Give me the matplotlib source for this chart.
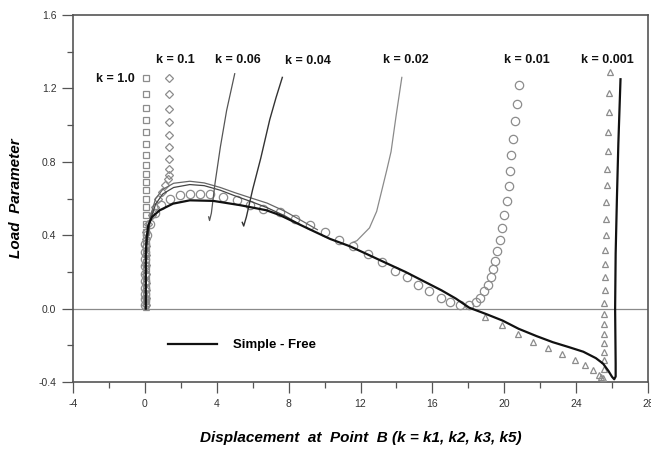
import matplotlib
matplotlib.use("Agg")
import matplotlib.pyplot as plt
import numpy as np
from matplotlib.ticker import MultipleLocator, FormatStrFormatter

plt.rcParams["font.family"] = ["Liberation Sans", "DejaVu Sans"]
plt.rcParams["axes.unicode_minus"] = False

# main thick curve (Simple - Free, k = 0.001 branch included)
main_x = [0.05, 0.05, 0.05, 0.1, 0.19, 0.4, 0.83, 1.57, 2.5, 3.8, 5.28, 6.76, 7.5, 9.0,
          10.3, 11.4, 12.4, 13.5, 14.5, 15.5, 16.5, 17.3, 18.05, 19.0, 19.9, 20.8, 21.8,
          22.7, 23.6, 24.4, 25.1, 25.5, 25.8, 26.0, 26.12, 26.2, 26.2, 26.17, 26.2, 26.27,
          26.35, 26.47]
main_y = [0.0, 0.15, 0.3, 0.39, 0.455, 0.5, 0.536, 0.572, 0.59, 0.587, 0.564, 0.536, 0.51,
          0.44, 0.38, 0.34, 0.295, 0.245, 0.2, 0.15, 0.1, 0.055, 0.005, -0.03, -0.065, -0.11,
          -0.15, -0.183, -0.21, -0.235, -0.27, -0.30, -0.34, -0.372, -0.385, -0.37, -0.3,
          0.0, 0.3, 0.6, 0.9, 1.25]

# thin arcs and unloading branches
arc06_x = [0.05, 0.1, 0.3, 0.6, 1.0, 1.6, 2.5, 3.3, 4.2, 5.0, 6.0, 6.8, 7.8, 8.8, 9.6]
arc06_y = [0.0, 0.35, 0.5, 0.6, 0.65, 0.683, 0.694, 0.685, 0.66, 0.632, 0.6, 0.575, 0.53, 0.475, 0.43]
arc04_x = [0.05, 0.1, 0.3, 0.6, 1.0, 1.6, 2.5, 3.3, 4.2, 5.0, 6.0, 6.8, 7.8, 8.6]
arc04_y = [0.0, 0.35, 0.48, 0.57, 0.625, 0.66, 0.676, 0.67, 0.645, 0.615, 0.58, 0.55, 0.505, 0.46]
j06_x = [3.55, 3.6, 3.7, 3.9, 4.2, 4.55, 5.0]
j06_y = [0.50, 0.48, 0.52, 0.68, 0.88, 1.08, 1.28]
j04_x = [5.42, 5.5, 5.65, 6.0, 6.45, 6.95, 7.3, 7.65]
j04_y = [0.47, 0.45, 0.50, 0.65, 0.82, 1.03, 1.15, 1.26]
j02_x = [11.55, 11.8, 12.1, 12.5, 12.9, 13.2, 13.45, 13.7, 13.98, 14.3]
j02_y = [0.36, 0.37, 0.40, 0.44, 0.53, 0.65, 0.75, 0.855, 1.05, 1.26]

# k = 1.0 squares
sq_x = [0.04] * 27
sq_y = [1.257, 1.17, 1.095, 1.026, 0.963, 0.899, 0.839, 0.785, 0.736, 0.69, 0.645, 0.6,
        0.554, 0.509, 0.463, 0.418, 0.375, 0.335, 0.295, 0.255, 0.215, 0.18, 0.145, 0.11,
        0.08, 0.05, 0.03]

# k = 0.1 diamonds
dm_x = [0.05, 0.05, 0.05, 0.05, 0.05, 0.05, 0.05, 0.05, 0.05, 0.09, 0.19, 0.37, 0.56, 0.74,
        0.93, 1.11, 1.29, 1.35, 1.37, 1.37, 1.37, 1.37, 1.37, 1.37, 1.37, 1.37]
dm_y = [0.02, 0.06, 0.1, 0.14, 0.19, 0.24, 0.29, 0.34, 0.38, 0.418, 0.463, 0.508, 0.554, 0.6,
        0.636, 0.672, 0.708, 0.73, 0.763, 0.817, 0.88, 0.944, 1.017, 1.09, 1.17, 1.257]

# k = 0.01 circles
ci_x = [0.02, 0.02, 0.02, 0.02, 0.02, 0.02, 0.02, 0.02, 0.02, 0.02, 0.12, 0.3, 0.55, 0.9,
        1.4, 1.95, 2.5, 3.05, 3.6, 4.35, 5.1, 5.85, 6.6, 7.5, 8.33, 9.17, 10.0, 10.83, 11.6,
        12.4, 13.2, 13.9, 14.6, 15.2, 15.8, 16.5, 17.0, 17.55, 18.05, 18.4, 18.65, 18.9,
        19.1, 19.26, 19.35, 19.5, 19.62, 19.76, 19.9, 20.0, 20.15, 20.24, 20.33, 20.4,
        20.5, 20.6, 20.7, 20.8]
ci_y = [0.02, 0.05, 0.08, 0.11, 0.15, 0.19, 0.23, 0.27, 0.31, 0.35, 0.4, 0.46, 0.52, 0.565,
        0.6, 0.618, 0.627, 0.627, 0.622, 0.61, 0.59, 0.565, 0.545, 0.525, 0.49, 0.454,
        0.418, 0.376, 0.34, 0.297, 0.252, 0.206, 0.17, 0.13, 0.098, 0.06, 0.037, 0.02,
        0.018, 0.037, 0.06, 0.094, 0.13, 0.17, 0.215, 0.26, 0.312, 0.372, 0.44, 0.51,
        0.585, 0.667, 0.75, 0.835, 0.926, 1.02, 1.117, 1.217]

# k = 0.001 triangles
tr_x = [0.05, 0.05, 0.05, 18.94, 19.85, 20.74, 21.6, 22.45, 23.24, 23.95, 24.5, 24.96, 25.3,
        25.4, 25.5, 25.55, 25.55, 25.55, 25.55, 25.55, 25.55, 25.56, 25.57, 25.58, 25.6,
        25.61, 25.63, 25.65, 25.67, 25.69, 25.71, 25.73, 25.75, 25.78, 25.81, 25.85, 25.9]
tr_y = [0.01, 0.04, 0.07, -0.045, -0.09, -0.136, -0.18, -0.214, -0.25, -0.278, -0.309,
        -0.336, -0.363, -0.375, -0.38, -0.327, -0.28, -0.236, -0.19, -0.14, -0.082, -0.027,
        0.033, 0.1, 0.17, 0.245, 0.32, 0.40, 0.49, 0.58, 0.672, 0.763, 0.857, 0.963, 1.07,
        1.175, 1.29]

k_labels = ["k = 1.0", "k = 0.1", "k = 0.06", "k = 0.04", "k = 0.02", "k = 0.01", "k = 0.001"]
k_label_x = [-0.55, 1.71, 5.18, 9.07, 14.5, 21.25, 25.74]
k_label_y = [1.253, 1.357, 1.357, 1.35, 1.357, 1.357, 1.357]

fig = plt.figure(figsize=(6.51, 4.51), dpi=100)
ax = fig.add_axes([73 / 651, 69 / 451, 575 / 651, 367 / 451])

ax.axhline(0, color="#8a8a8a", lw=0.9, zorder=1)

mk = dict(linestyle="none", markerfacecolor="none", markeredgecolor="#8c8c8c",
          markeredgewidth=0.9, zorder=3)
ax.plot(sq_x, sq_y, marker="s", markersize=5, **mk)
ax.plot(dm_x, dm_y, marker="D", markersize=4.5, **mk)
ax.plot(ci_x, ci_y, marker="o", markersize=6, **mk)
ax.plot(tr_x, tr_y, marker="^", markersize=5, **mk)

ax.plot(arc06_x, arc06_y, color="#666666", lw=0.9, zorder=4)
ax.plot(arc04_x, arc04_y, color="#444444", lw=0.9, zorder=4)
ax.plot(j06_x, j06_y, color="#555555", lw=0.9, zorder=4)
ax.plot(j04_x, j04_y, color="#333333", lw=1.0, zorder=4)
ax.plot(j02_x, j02_y, color="#8a8a8a", lw=0.9, zorder=4)
ax.plot(main_x, main_y, color="#111111", lw=1.6, zorder=5, label="Simple - Free")

for i, (t, x, y) in enumerate(zip(k_labels, k_label_x, k_label_y)):
    ha = "right" if i == 0 else "center"
    ax.text(x, y, t, ha=ha, va="center", fontsize=9, fontweight="bold", color="#111111")

ax.legend(loc="center left", bbox_to_anchor=(0.165, 0.1), frameon=False,
          borderpad=0, borderaxespad=0, handlelength=3.7, handletextpad=1.2,
          prop={"weight": "bold", "size": 9.5})

ax.set_xlim(-4, 28)
ax.set_ylim(-0.4, 1.6)
ax.xaxis.set_major_locator(MultipleLocator(4))
ax.xaxis.set_minor_locator(MultipleLocator(2))
ax.yaxis.set_major_locator(MultipleLocator(0.4))
ax.yaxis.set_minor_locator(MultipleLocator(0.2))
ax.yaxis.set_major_formatter(FormatStrFormatter("%.1f"))
ax.tick_params(which="major", direction="out", length=8, width=0.9, color="#555555",
               labelsize=7.5, labelcolor="#333333", pad=4)
ax.tick_params(which="minor", direction="out", length=4, width=0.9, color="#555555")
for s in ax.spines.values():
    s.set_color("#555555")
    s.set_linewidth(1.2)

ax.set_xlabel("Displacement  at  Point  B (k = k1, k2, k3, k5)", fontsize=11,
              fontweight="bold", style="italic", labelpad=16)
ax.set_ylabel("Load  Parameter", fontsize=11, fontweight="bold", style="italic")
ax.yaxis.set_label_coords(-0.087, 0.5)

fig.savefig("out.png", dpi=100)
